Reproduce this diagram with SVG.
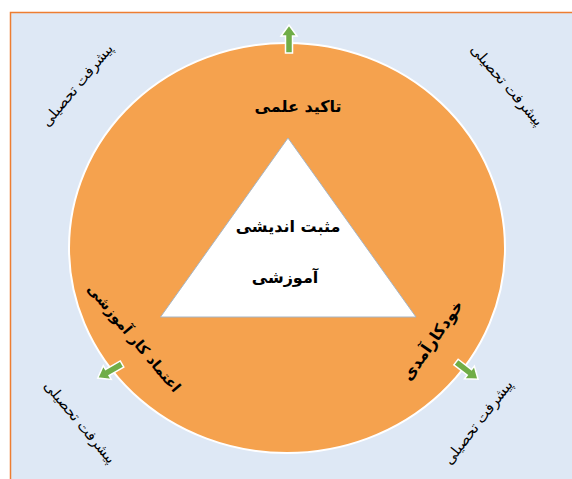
<svg xmlns="http://www.w3.org/2000/svg" width="572" height="479" viewBox="0 0 572 479">
<defs>
<style>
.t{font-family:"DejaVu Sans",sans-serif;fill:#000;text-anchor:middle}
.c{font-size:14.5px}
.l{font-size:16px;font-weight:bold}
.ls{font-size:14.5px;font-weight:bold}
.m{font-size:16px;font-weight:bold}
.ar{fill:#70ad47;stroke:#fff;stroke-width:1.5}
</style>
<path id="arr" d="M0,-3.5 L17,-3.5 L17,-8 L28,0 L17,8 L17,3.5 L0,3.5 Z"/>
</defs>
<rect x="0" y="0" width="572" height="479" fill="#fff"/>
<rect x="10.5" y="12.5" width="570" height="480" fill="#dee8f5" stroke="#ed7d31" stroke-width="1.5"/>
<g id="circle">
<ellipse cx="287" cy="248" rx="218" ry="205" fill="#f5a24e" stroke="#fff" stroke-width="2"/>
</g>
<g id="triangle">
<polygon points="288,138 160.5,317 416,317" fill="#fff" stroke="#a5b4c4" stroke-width="1"/>
<text class="t m" x="288" y="232">مثبت اندیشی</text>
<text class="t m" x="285" y="283">آموزشی</text>
</g>
<g id="connectors">
<use href="#arr" class="ar" transform="translate(289,53) rotate(-90)"/>
<use href="#arr" class="ar" transform="translate(122,364) rotate(150)"/>
<use href="#arr" class="ar" transform="translate(456,362) rotate(38)"/>
</g>
<g id="label-top">
<text class="t l" x="298" y="112">تاکید علمی</text>
</g>
<g id="label-left">
<text class="t ls" transform="translate(134,338) rotate(50)" x="0" y="5">اعتماد کار آموزشی</text>
</g>
<g id="label-right">
<text class="t l" transform="translate(432,340) rotate(-55)" x="0" y="6">خودکارآمدی</text>
</g>
<g id="corner-tl">
<text class="t c" transform="translate(77,85) rotate(-50)" x="0" y="5">پیشرفت تحصیلی</text>
</g>
<g id="corner-tr">
<text class="t c" transform="translate(507,85) rotate(49)" x="0" y="5">پیشرفت تحصیلی</text>
</g>
<g id="corner-bl">
<text class="t c" transform="translate(80,422) rotate(50)" x="0" y="5">پیشرفت تحصیلی</text>
</g>
<g id="corner-br">
<text class="t c" transform="translate(478,422) rotate(-52)" x="0" y="5">پیشرفت تحصیلی</text>
</g>
</svg>
